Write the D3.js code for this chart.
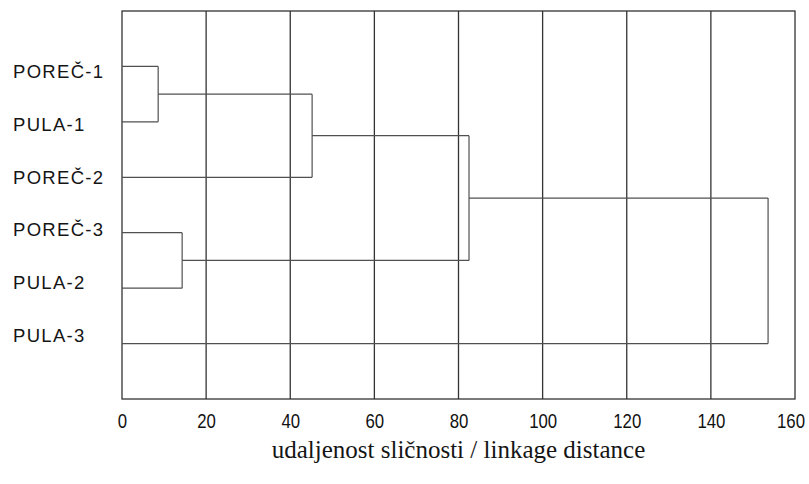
<!DOCTYPE html>
<html><head><meta charset="utf-8">
<script src="https://cdn.jsdelivr.net/npm/d3@7"></script>
<style>
html,body{margin:0;padding:0;background:#fff;}
svg{display:block;}
</style></head>
<body>
<svg id="c" width="809" height="484"></svg>
<script>
// ---- data ----
const leaves = ["POREČ-1", "PULA-1", "POREČ-2", "POREČ-3", "PULA-2", "PULA-3"];
// merges: node ids 0..5 are leaves, each merge creates node 6,7,...
const mergeA = [0, 3, 6, 8, 9];
const mergeB = [1, 4, 2, 7, 5];
const mergeDist = [8.6, 14.3, 45.2, 82.5, 153.6];
const tickValues = [0, 20, 40, 60, 80, 100, 120, 140, 160];
const xTitle = "udaljenost sličnosti / linkage distance";

// ---- layout ----
const W = 809, H = 484;
const svg = d3.select("#c");
const x = d3.scaleLinear().domain([0, 160]).range([122, 795]);
const y = d3.scaleLinear().domain([0, leaves.length + 1]).range([11, 399]);
const yLabel = d3.scaleLinear().domain([1, leaves.length]).range([71.5, 335.5]);

const gridColor = "#333";
const lineColor = "#505050";

// vertical gridlines
svg.append("g").selectAll("line").data(tickValues.slice(1, -1)).join("line")
  .attr("x1", d => x(d)).attr("x2", d => x(d))
  .attr("y1", y(0)).attr("y2", y(leaves.length + 1))
  .attr("stroke", gridColor).attr("stroke-width", 1.3);

// frame
svg.append("rect")
  .attr("x", x(0)).attr("y", y(0))
  .attr("width", x(160) - x(0)).attr("height", y(leaves.length + 1) - y(0))
  .attr("fill", "none").attr("stroke", gridColor).attr("stroke-width", 1.3);

// dendrogram
const nodes = leaves.map((l, i) => ({ x: 0, y: i + 1 }));
const segs = [];
mergeDist.forEach((d, k) => {
  const a = nodes[mergeA[k]], b = nodes[mergeB[k]];
  segs.push([a.x, a.y, d, a.y]);
  segs.push([b.x, b.y, d, b.y]);
  segs.push([d, a.y, d, b.y]);
  nodes.push({ x: d, y: (a.y + b.y) / 2 });
});
svg.append("g").selectAll("line").data(segs).join("line")
  .attr("x1", s => x(s[0])).attr("y1", s => y(s[1]))
  .attr("x2", s => x(s[2])).attr("y2", s => y(s[3]))
  .attr("stroke", lineColor).attr("stroke-width", 1.2);

// leaf labels
svg.append("g").selectAll("text").data(leaves).join("text")
  .attr("x", 13).attr("y", (d, i) => yLabel(i + 1))
  .attr("dominant-baseline", "central")
  .attr("font-family", "'Liberation Sans', Arial, sans-serif")
  .attr("font-size", 18.5).attr("letter-spacing", 1.3)
  .attr("fill", "#151515")
  .text(d => d);

// x axis
const axis = d3.axisBottom(x).tickValues(tickValues).tickSize(0).tickPadding(0)
  .tickFormat(d3.format("d"));
const gx = svg.append("g").attr("transform", `translate(0,${428})`).call(axis);
gx.select(".domain").remove();
gx.selectAll(".tick").filter(d => d === 160).attr("transform", `translate(${x(160) - 4},0)`);
gx.selectAll("text")
  .attr("dy", 0).attr("y", 0)
  .attr("transform", "scale(0.84,1)")
  .attr("font-family", "'Liberation Sans', Arial, sans-serif")
  .attr("font-size", 20).attr("fill", "#111");

// x title
svg.append("text")
  .attr("x", (x(0) + x(160)) / 2).attr("y", 458)
  .attr("text-anchor", "middle")
  .attr("font-family", "'Liberation Serif', 'Times New Roman', serif")
  .attr("font-size", 25).attr("fill", "#151515")
  .text(xTitle);
</script>
</body></html>
